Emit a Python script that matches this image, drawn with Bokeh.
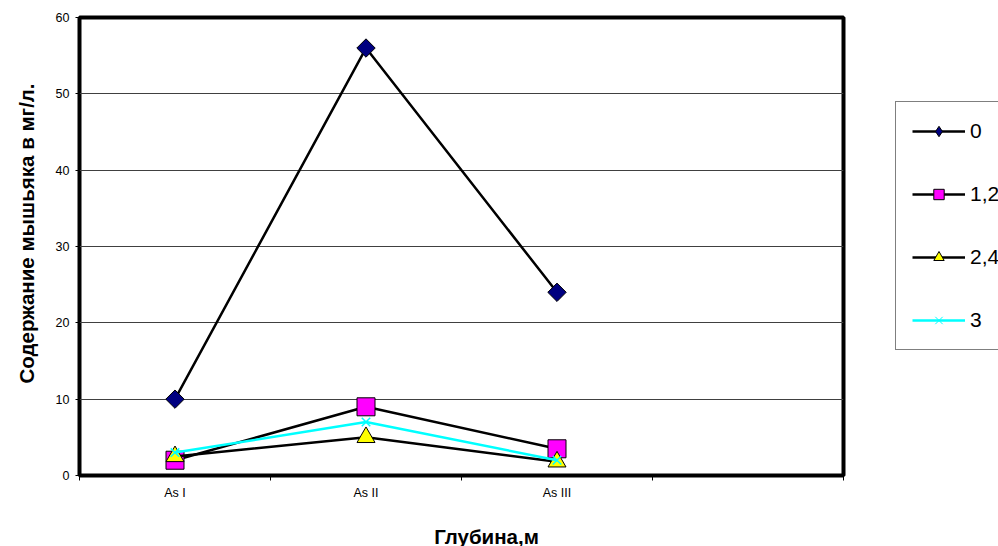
import math
from bokeh.plotting import figure
from bokeh.models import Range1d, FixedTicker, Legend, LegendItem, Label
from bokeh.layouts import row, column
from bokeh.embed import file_html
from bokeh.resources import INLINE

# Depth horizons (the fourth slot is left empty on the axis)
categories = ["As I", "As II", "As III", ""]
# Arsenic content, mg/l, for each series
series_names = ["0", "1,2", "2,4", "3"]
s_0 = [10, 56, 24]
s_1_2 = [2, 9, 3.5]
s_2_4 = [2.5, 5, 1.8]
s_3 = [3, 7, 2]
y_ticks = [0, 10, 20, 30, 40, 50, 60]

y_title = "Содержание мышьяка в мг/л."
x_title = "Глубина,м"

FONT = "Liberation Sans"
NAVY, MAGENTA, YELLOW, CYAN = "#000080", "#FF00FF", "#FFFF00", "#00FFFF"


def blank(width, height, rng=(0, 1)):
    f = figure(width=width, height=height, output_backend="svg", toolbar_location=None,
               x_axis_location=None, y_axis_location=None, min_border=0,
               x_range=Range1d(*rng), y_range=Range1d(*rng))
    f.outline_line_color = None
    f.background_fill_color = "white"
    f.border_fill_color = "white"
    for g in f.grid:
        g.visible = False
    return f


n_cat = len(categories)
xs = [i + 0.5 for i in range(len(s_0))]
series = [s_0, s_1_2, s_2_4, s_3]

# ---- main chart ----
p = figure(width=854, height=520, output_backend="svg", toolbar_location=None,
           x_range=Range1d(0, n_cat), y_range=Range1d(y_ticks[0], y_ticks[-1]),
           min_border_left=39, min_border_right=51, min_border_top=17, min_border_bottom=45)
p.background_fill_color = "white"
p.border_fill_color = "white"
p.outline_line_color = "black"
p.outline_line_width = 4

# x axis: labels at category centres, tick marks at category boundaries
p.xaxis.ticker = FixedTicker(ticks=[i + 0.5 for i in range(n_cat)],
                             minor_ticks=list(range(n_cat + 1)))
p.xaxis.major_label_overrides = {i + 0.5: c for i, c in enumerate(categories)}
p.xaxis.major_tick_line_color = None
p.xaxis.minor_tick_line_color = "black"
p.xaxis.minor_tick_in = 0
p.xaxis.minor_tick_out = 5
p.xaxis.axis_line_color = None
p.xaxis.major_label_text_font = FONT
p.xaxis.major_label_text_font_size = "12.5px"
p.xaxis.major_label_text_color = "black"
p.xaxis.major_label_standoff = 4
p.xgrid.grid_line_color = None

# y axis
p.yaxis.ticker = FixedTicker(ticks=y_ticks)
p.yaxis.minor_tick_line_color = None
p.yaxis.major_tick_in = 0
p.yaxis.major_tick_out = 4
p.yaxis.axis_line_color = None
p.yaxis.major_label_text_font = FONT
p.yaxis.major_label_text_font_size = "12.5px"
p.yaxis.major_label_text_color = "black"
p.yaxis.major_label_standoff = 6
p.ygrid.grid_line_color = "#404040"
p.ygrid.grid_line_width = 1

# marker / line style of each series
styles = [
    dict(line="black", marker="square", angle=math.pi / 4, size=13, fill=NAVY, mline="black", lw=1),
    dict(line="black", marker="square", angle=0, size=18, fill=MAGENTA, mline="black", lw=1),
    dict(line="black", marker="triangle", angle=0, size=18, fill=YELLOW, mline="black", lw=1),
    dict(line=CYAN, marker="x", angle=0, size=12, fill=None, mline=CYAN, lw=1.5),
]

for ys, st in zip(series, styles):
    p.line(xs, ys, line_color=st["line"], line_width=2.5)
    p.scatter(xs, ys, marker=st["marker"], angle=st["angle"], size=st["size"],
              fill_color=st["fill"], line_color=st["mline"], line_width=st["lw"])

# ---- vertical axis title ----
left = blank(40, 520)
left.add_layout(Label(x=25.5, y=242, x_units="screen", y_units="screen", angle=math.pi / 2,
                      text=y_title, text_font=FONT, text_font_style="bold",
                      text_font_size="20.5px", text_color="black",
                      text_align="center", text_baseline="alphabetic"))

# ---- legend panel (its series sit outside the panel's view; only the key shows) ----
leg = blank(104, 520, rng=(100, 101))
legend_markers = ["diamond", "square", "triangle", "x"]
items = []
for name, ys, st, mk in zip(series_names, series, styles, legend_markers):
    lr = leg.line(xs, ys, line_color=st["line"], line_width=2.5)
    mr = leg.scatter(xs, ys, marker=mk, fill_color=st["fill"],
                     line_color=st["mline"], line_width=1)
    items.append(LegendItem(label=name, renderers=[lr, mr]))

legend = Legend(items=items, location=(1, 125), margin=0, padding=16, spacing=37,
                glyph_width=53, glyph_height=26, label_height=26, label_standoff=5,
                label_text_font=FONT, label_text_font_size="21px", label_text_color="black",
                border_line_color="black", border_line_width=1,
                background_fill_color="white", background_fill_alpha=1)
leg.add_layout(legend, "center")

# ---- horizontal axis title ----
bottom = blank(998, 26)
bottom.add_layout(Label(x=486, y=10.5, x_units="screen", y_units="screen",
                        text=x_title, text_font=FONT, text_font_style="bold",
                        text_font_size="20.5px", text_color="black",
                        text_align="center", text_baseline="alphabetic"))

layout = column(row(left, p, leg), bottom)
open("out.html", "w").write(file_html(layout, INLINE))
